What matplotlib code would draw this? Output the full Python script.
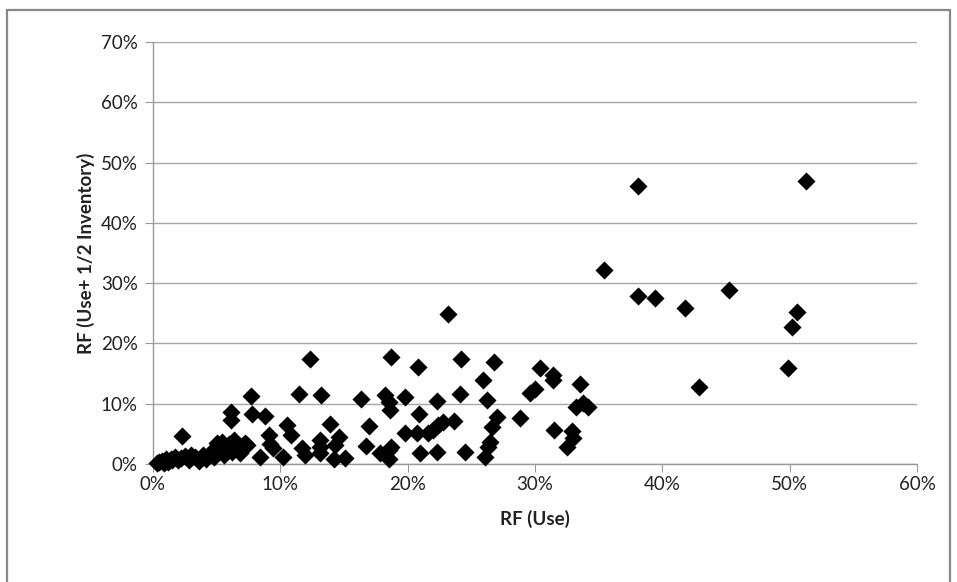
import matplotlib
matplotlib.use("Agg")
import matplotlib.pyplot as plt
from matplotlib.ticker import FuncFormatter, MultipleLocator
from matplotlib.patches import Rectangle

# RF (Use) in percent
rf_use = [
    51.3, 38.1, 35.4, 38.1, 39.4, 41.8, 45.2, 50.6, 50.2, 49.9, 42.9,
    23.2, 24.2, 26.8, 25.9, 24.1, 26.2, 23.6, 24.5, 27.0, 26.6, 26.5, 26.3, 26.1,
    28.8, 29.6, 30.0, 30.4, 31.4, 31.4, 31.5, 32.9, 33.0, 32.5, 33.5, 33.2, 33.8, 34.2,
    18.7, 20.8, 16.3, 18.2, 18.5, 18.6, 19.8, 22.3, 17.0, 20.9, 16.7, 17.8, 18.5,
    18.7, 18.5, 19.8, 20.7, 21.6, 22.0, 22.4, 22.8, 21.0, 22.3,
    12.3, 11.5, 13.2, 13.9, 14.6, 14.3, 14.2, 15.1, 13.1, 13.1, 10.5, 10.8, 10.2,
    11.7, 11.9, 13.1,
    7.7, 7.8, 8.8, 6.1, 6.1, 7.4, 9.1, 9.2, 9.4, 8.4, 6.8, 2.3,
    0.3, 0.5, 0.7, 0.9, 1.0, 1.2, 1.4, 1.5, 1.7, 2.0, 2.2, 2.5, 2.8, 3.0, 3.3,
    3.6, 3.9, 4.2, 4.5, 4.8, 5.0, 5.2, 5.4, 5.6, 5.8, 6.0, 6.2, 6.4, 6.6, 6.8,
    7.0, 7.2,
]
# RF (Use + 1/2 Inventory) in percent
rf_use_inv = [
    46.9, 46.1, 32.2, 27.9, 27.6, 25.9, 28.9, 25.2, 22.8, 15.9, 12.7,
    24.9, 17.4, 17.0, 14.0, 11.6, 10.6, 7.1, 2.0, 7.8, 6.2, 3.7, 2.9, 1.1,
    7.6, 11.7, 12.5, 15.9, 14.8, 13.9, 5.6, 5.4, 4.3, 2.9, 13.2, 9.5, 10.1, 9.5,
    17.8, 16.1, 10.8, 11.4, 10.3, 9.0, 11.1, 10.4, 6.3, 8.3, 3.0, 1.8, 2.3,
    2.9, 0.9, 5.1, 5.1, 5.1, 5.6, 6.5, 7.0, 1.8, 2.0,
    17.4, 11.6, 11.4, 6.7, 4.5, 3.2, 0.9, 1.0, 2.9, 4.0, 6.5, 4.8, 1.2,
    2.6, 1.5, 1.8,
    11.3, 8.3, 8.0, 8.7, 7.3, 3.2, 4.8, 3.4, 2.6, 1.2, 2.3, 4.7,
    0.2, 0.3, 0.5, 0.1, 0.8, 0.4, 0.9, 0.6, 1.2, 0.7, 1.0, 1.3, 0.6, 1.5, 1.2,
    0.5, 1.5, 0.9, 1.8, 1.2, 3.5, 2.2, 3.7, 1.5, 2.8, 3.3, 2.0, 4.0, 2.5, 1.8,
    3.0, 3.5,
]

x_label = "RF (Use)"
y_label = "RF (Use+ 1/2 Inventory)"

plt.rcParams['font.family'] = ['Lato', 'DejaVu Sans']

fig = plt.figure(figsize=(9.57, 5.82), dpi=100)
fig.patches.append(Rectangle((7 / 957, -0.1), (950 - 7) / 957, 1.1 - 10 / 582,
                             transform=fig.transFigure, fill=False,
                             edgecolor="#888888", linewidth=1.6))

ax = fig.add_axes([153 / 957, 1 - 464 / 582, (917 - 153) / 957, (464 - 42) / 582])
ax.scatter(rf_use, rf_use_inv, marker="D", s=85, color="black", zorder=3, linewidths=0,
           clip_on=False)

ax.set_xlim(0, 60)
ax.set_ylim(0, 70)
ax.xaxis.set_major_locator(MultipleLocator(10))
ax.yaxis.set_major_locator(MultipleLocator(10))
fmt = FuncFormatter(lambda v, p: f"{v:.0f}%")
ax.xaxis.set_major_formatter(fmt)
ax.yaxis.set_major_formatter(fmt)

ax.grid(axis="y", color="#a6a6a6", linewidth=1.0, zorder=0)
for s in ["top", "right"]:
    ax.spines[s].set_visible(False)
for s in ["left", "bottom"]:
    ax.spines[s].set_color("#999999")
    ax.spines[s].set_linewidth(1.0)
ax.tick_params(axis="both", direction="out", length=6, color="#999999",
               labelsize=13.5, labelcolor="#222222")
ax.tick_params(axis="x", pad=3)
ax.tick_params(axis="y", pad=5)

ax.set_xlabel(x_label, fontsize=13.5, fontweight="bold", labelpad=12, color="#222222")
ax.set_ylabel(y_label, fontsize=13.5, fontweight="bold", labelpad=4, color="#222222")

fig.savefig("out.png", dpi=100)
